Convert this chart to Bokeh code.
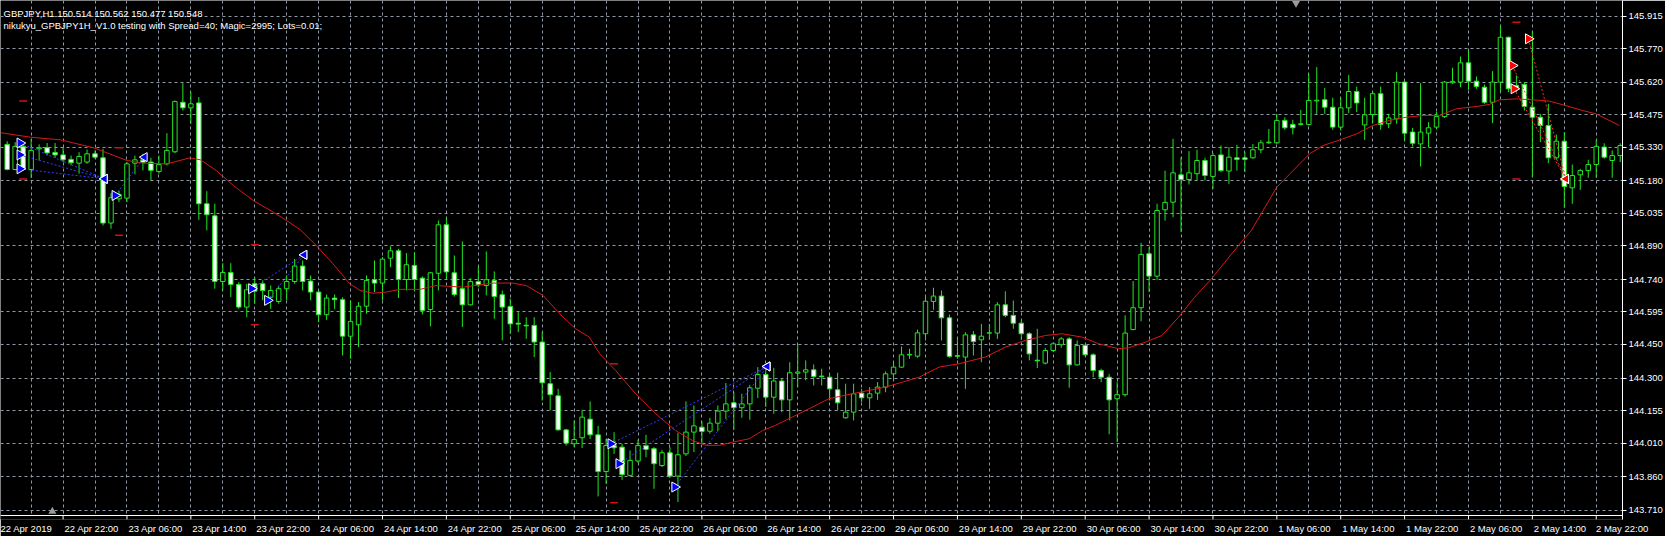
import math
from bokeh.plotting import figure
from bokeh.models import (Range1d, FixedTicker, Label, ColumnDataSource, PrintfTickFormatter,
                          BoxAnnotation, Span)
from bokeh.embed import file_html
from bokeh.resources import INLINE

# ---------------- data ----------------
symbol_line = "GBPJPY,H1  150.514 150.562 150.477 150.548"
ea_line = "nikukyu_GPBJPY1H_V1.0 testing with Spread=40; Magic=2995; Lots=0.01;"

first_bar = 1  # bar 0 = 22 Apr 14:00, one bar per hour (weekend removed)

opens = [145.343, 145.231, 145.334, 145.231, 145.323, 145.328, 145.307, 145.296, 145.276, 145.259,
         145.264, 145.301, 145.283, 144.992, 145.100, 145.103, 145.259, 145.274, 145.264, 145.222,
         145.256, 145.310, 145.531, 145.506, 145.528, 145.078, 145.024, 144.731, 144.771, 144.718,
         144.617, 144.721, 144.721, 144.661, 144.642, 144.699, 144.731, 144.800, 144.733, 144.684,
         144.583, 144.657, 144.650, 144.487, 144.538, 144.621, 144.740, 144.724, 144.835, 144.868,
         144.740, 144.803, 144.746, 144.606, 144.768, 144.984, 144.770, 144.699, 144.627, 144.731,
         144.713, 144.736, 144.672, 144.620, 144.545, 144.536, 144.535, 144.461, 144.275, 144.221,
         144.069, 144.007, 144.034, 144.117, 144.047, 143.883, 143.999, 143.992, 143.866, 143.930,
         143.999, 143.985, 143.910, 143.967, 143.863, 143.962, 144.059, 144.081, 144.063, 144.099,
         144.153, 144.190, 144.168, 144.185, 144.255, 144.316, 144.215, 144.287, 144.203, 144.322,
         144.327, 144.337, 144.309, 144.304, 144.248, 144.123, 144.148, 144.233, 144.212, 144.233,
         144.260, 144.319, 144.349, 144.403, 144.398, 144.498, 144.642, 144.666, 144.569, 144.397,
         144.394, 144.493, 144.471, 144.501, 144.501, 144.627, 144.580, 144.545, 144.498, 144.380,
         144.367, 144.423, 144.449, 144.475, 144.359, 144.446, 144.404, 144.334, 144.304, 144.208,
         144.226, 144.517, 144.614, 144.855, 144.755, 145.051, 145.085, 145.207, 145.186, 145.212,
         145.271, 145.200, 145.296, 145.224, 145.283, 145.283, 145.283, 145.319, 145.350, 145.350,
         145.450, 145.432, 145.432, 145.432, 145.537, 145.542, 145.509, 145.420, 145.506, 145.579,
         145.430, 145.476, 145.569, 145.435, 145.457, 145.621, 145.398, 145.345, 145.393, 145.420,
         145.467, 145.618, 145.621, 145.707, 145.625, 145.598, 145.531, 145.621, 145.821, 145.606,
         145.610, 145.509, 145.464, 145.427, 145.283, 145.357, 145.149, 145.207, 145.226, 145.253,
         145.331, 145.271, 145.293]

highs = [145.357, 145.353, 145.345, 145.368, 145.343, 145.349, 145.349, 145.331, 145.293, 145.308,
         145.320, 145.316, 145.323, 145.125, 145.137, 145.264, 145.293, 145.301, 145.283, 145.293,
         145.393, 145.539, 145.616, 145.576, 145.554, 145.134, 145.078, 144.813, 144.813, 144.728,
         144.721, 144.751, 144.736, 144.713, 144.713, 144.758, 144.832, 144.825, 144.758, 144.691,
         144.673, 144.673, 144.661, 144.647, 144.639, 144.758, 144.825, 144.840, 144.888, 144.877,
         144.858, 144.862, 144.754, 144.773, 145.003, 145.015, 144.847, 144.910, 144.746, 144.798,
         144.865, 144.776, 144.691, 144.654, 144.594, 144.572, 144.572, 144.505, 144.327, 144.252,
         144.074, 144.111, 144.159, 144.196, 144.087, 144.029, 144.059, 144.007, 143.977, 144.025,
         144.047, 143.992, 143.980, 143.992, 144.055, 144.196, 144.178, 144.107, 144.123, 144.178,
         144.278, 144.237, 144.230, 144.270, 144.349, 144.349, 144.346, 144.297, 144.371, 144.450,
         144.379, 144.361, 144.342, 144.319, 144.324, 144.275, 144.275, 144.252, 144.260, 144.282,
         144.330, 144.371, 144.441, 144.431, 144.516, 144.669, 144.703, 144.691, 144.584, 144.483,
         144.505, 144.510, 144.542, 144.542, 144.639, 144.687, 144.646, 144.557, 144.505, 144.520,
         144.435, 144.460, 144.483, 144.483, 144.468, 144.453, 144.411, 144.342, 144.319, 144.282,
         144.580, 144.733, 144.904, 144.884, 145.078, 145.226, 145.368, 145.286, 145.313, 145.319,
         145.283, 145.304, 145.338, 145.331, 145.341, 145.308, 145.345, 145.363, 145.412, 145.479,
         145.464, 145.453, 145.497, 145.658, 145.688, 145.595, 145.551, 145.551, 145.653, 145.601,
         145.551, 145.580, 145.601, 145.479, 145.665, 145.625, 145.417, 145.616, 145.442, 145.487,
         145.625, 145.685, 145.735, 145.762, 145.646, 145.610, 145.670, 145.873, 145.824, 145.650,
         145.621, 145.848, 145.479, 145.524, 145.387, 145.398, 145.253, 145.234, 145.274, 145.363,
         145.348, 145.316, 145.348]

lows = [145.227, 145.227, 145.227, 145.194, 145.271, 145.294, 145.283, 145.264, 145.249, 145.212,
        145.256, 145.279, 144.981, 144.966, 145.085, 145.085, 145.209, 145.227, 145.182, 145.212,
        145.249, 145.304, 145.494, 145.435, 145.006, 144.959, 144.699, 144.691, 144.661, 144.609,
        144.572, 144.632, 144.647, 144.609, 144.632, 144.647, 144.721, 144.691, 144.647, 144.550,
        144.560, 144.609, 144.401, 144.386, 144.438, 144.587, 144.684, 144.647, 144.795, 144.657,
        144.691, 144.691, 144.584, 144.531, 144.691, 144.743, 144.664, 144.528, 144.624, 144.706,
        144.669, 144.565, 144.468, 144.498, 144.505, 144.475, 144.394, 144.200, 144.156, 144.066,
        143.999, 143.992, 143.988, 144.029, 143.772, 143.828, 143.962, 143.846, 143.861, 143.921,
        143.947, 143.806, 143.903, 143.855, 143.747, 143.952, 143.970, 144.007, 144.052, 144.063,
        144.118, 144.069, 144.123, 144.114, 144.211, 144.171, 144.141, 144.148, 144.111, 144.260,
        144.290, 144.267, 144.267, 144.200, 144.156, 144.119, 144.111, 144.193, 144.163, 144.203,
        144.237, 144.290, 144.346, 144.386, 144.391, 144.468, 144.605, 144.468, 144.391, 144.386,
        144.252, 144.401, 144.371, 144.471, 144.475, 144.572, 144.520, 144.471, 144.379, 144.345,
        144.361, 144.416, 144.435, 144.257, 144.356, 144.397, 144.304, 144.282, 144.049, 144.014,
        144.218, 144.513, 144.554, 144.684, 144.739, 145.003, 145.018, 144.951, 145.164, 145.182,
        145.182, 145.145, 145.219, 145.167, 145.226, 145.219, 145.279, 145.304, 145.345, 145.345,
        145.408, 145.387, 145.427, 145.427, 145.479, 145.479, 145.408, 145.405, 145.482, 145.487,
        145.363, 145.438, 145.408, 145.415, 145.435, 145.360, 145.334, 145.244, 145.331, 145.412,
        145.461, 145.613, 145.598, 145.586, 145.591, 145.524, 145.438, 145.576, 145.576, 145.576,
        145.494, 145.197, 145.353, 145.259, 145.274, 145.060, 145.078, 145.140, 145.194, 145.194,
        145.279, 145.194, 145.264]

closes = [145.231, 145.334, 145.231, 145.316, 145.328, 145.305, 145.296, 145.274, 145.261, 145.289,
          145.301, 145.286, 144.992, 145.105, 145.120, 145.256, 145.274, 145.262, 145.227, 145.253,
          145.316, 145.534, 145.506, 145.524, 145.078, 145.029, 144.731, 144.771, 144.718, 144.617,
          144.694, 144.688, 144.691, 144.691, 144.699, 144.731, 144.800, 144.731, 144.684, 144.583,
          144.657, 144.650, 144.487, 144.553, 144.621, 144.736, 144.724, 144.831, 144.868, 144.740,
          144.806, 144.740, 144.602, 144.770, 144.984, 144.774, 144.673, 144.627, 144.731, 144.716,
          144.739, 144.664, 144.617, 144.542, 144.541, 144.533, 144.461, 144.279, 144.226, 144.069,
          144.010, 144.026, 144.126, 144.047, 143.883, 143.999, 143.989, 143.869, 143.933, 143.999,
          143.982, 143.918, 143.967, 143.863, 143.958, 144.059, 144.087, 144.062, 144.099, 144.153,
          144.185, 144.168, 144.185, 144.257, 144.316, 144.215, 144.287, 144.203, 144.324, 144.327,
          144.337, 144.307, 144.306, 144.252, 144.190, 144.148, 144.230, 144.212, 144.230, 144.260,
          144.319, 144.349, 144.404, 144.406, 144.502, 144.643, 144.666, 144.569, 144.397, 144.401,
          144.493, 144.463, 144.487, 144.502, 144.627, 144.580, 144.545, 144.498, 144.408, 144.377,
          144.423, 144.453, 144.475, 144.359, 144.446, 144.404, 144.334, 144.304, 144.203, 144.226,
          144.501, 144.614, 144.852, 144.755, 145.048, 145.084, 145.216, 145.186, 145.216, 145.271,
          145.204, 145.293, 145.226, 145.286, 145.276, 145.276, 145.319, 145.350, 145.353, 145.450,
          145.417, 145.417, 145.435, 145.539, 145.540, 145.509, 145.420, 145.506, 145.579, 145.528,
          145.475, 145.569, 145.432, 145.461, 145.621, 145.393, 145.348, 145.398, 145.417, 145.467,
          145.621, 145.624, 145.707, 145.625, 145.601, 145.531, 145.621, 145.821, 145.591, 145.591,
          145.512, 145.464, 145.427, 145.283, 145.357, 145.155, 145.204, 145.226, 145.253, 145.334,
          145.286, 145.293, 145.338]

# moving average (red line), read at these bar positions
ma_bars = [0.2, 3.9, 7.7, 11.8, 16, 18.1, 21, 23.9, 25.2, 27.2, 29.3, 31.8, 34.3, 36, 37.7, 39.7,
           41.8, 43.9, 45.2, 46.8, 48.5, 50.2, 52.7, 54.7, 58.1, 61.8, 64.3, 66, 68.1, 70.6, 72.2,
           73.9, 75.2, 77.2, 79.7, 82.2, 84.7, 86.8, 88.5, 90.2, 91.8, 93.9, 95.6, 97.2, 99.3, 101.4,
           103.9, 106.8, 111, 115.2, 117.7, 120.2, 123.5, 126, 128.5, 131, 133.1, 135.6, 137.7, 140.2,
           141.4, 143.5, 145.6, 147.7, 149.7, 151.8, 155.2, 156.8, 160, 164.1, 165.8, 168.3, 170, 172,
           174.1, 176.2, 178.3, 180.4, 182.5, 185, 186.6, 187.9, 190, 192, 194.1, 196.2, 198.3, 200,
           202.9]
ma_vals = [145.395, 145.375, 145.363, 145.328, 145.271, 145.259, 145.256, 145.283, 145.274, 145.226,
           145.160, 145.093, 145.041, 145.003, 144.962, 144.892, 144.810, 144.721, 144.691, 144.679,
           144.684, 144.696, 144.696, 144.713, 144.706, 144.724, 144.724, 144.713, 144.669, 144.572,
           144.520, 144.483, 144.408, 144.334, 144.230, 144.141, 144.066, 144.022, 144.000, 144.000,
           144.014, 144.029, 144.066, 144.089, 144.126, 144.163, 144.208, 144.230, 144.260, 144.304,
           144.349, 144.364, 144.394, 144.438, 144.468, 144.490, 144.498, 144.483, 144.453, 144.431,
           144.435, 144.460, 144.490, 144.572, 144.661, 144.743, 144.892, 144.959, 145.152, 145.301,
           145.338, 145.368, 145.390, 145.427, 145.450, 145.464, 145.472, 145.472, 145.502, 145.512,
           145.521, 145.542, 145.546, 145.542, 145.536, 145.516, 145.494, 145.479, 145.427]

# trades
buy_bar = [2.6, 2.6, 2.6, 14.5, 31.6, 33.6, 76.6, 77.6, 84.6]
buy_price = [145.349, 145.296, 145.234, 145.115, 144.699, 144.647, 144.007, 143.918, 143.814]
buy_close_bar = [13.2, 13.2, 13.2, 18.2, 38.2, 38.2, 96.2, 96.2, 96.2]
buy_close_price = [145.189, 145.189, 145.189, 145.286, 144.850, 144.850, 144.352, 144.352, 144.352]
sell_bar = [191.5, 189.5, 189.7]
sell_price = [145.814, 145.695, 145.591]
sell_close_bar = [196.2, 196.2, 196.2]
sell_close_price = [145.189, 145.189, 145.189]
stop_bar = [3, 3, 15, 15, 32, 32, 77, 77, 190, 190]
stop_price = [145.536, 145.189, 145.328, 144.937, 144.895, 144.538, 144.364, 143.744, 145.888, 145.189]

price_labels = ["145.915", "145.770", "145.620", "145.475", "145.330", "145.180", "145.035",
                "144.890", "144.740", "144.595", "144.450", "144.300", "144.155", "144.010",
                "143.860", "143.710"]
first_date_label = "22 Apr 2019"
time_labels = ["22 Apr 22:00", "23 Apr 06:00", "23 Apr 14:00", "23 Apr 22:00", "24 Apr 06:00",
               "24 Apr 14:00", "24 Apr 22:00", "25 Apr 06:00", "25 Apr 14:00", "25 Apr 22:00",
               "26 Apr 06:00", "26 Apr 14:00", "26 Apr 22:00", "29 Apr 06:00", "29 Apr 14:00",
               "29 Apr 22:00", "30 Apr 06:00", "30 Apr 14:00", "30 Apr 22:00", "1 May 06:00",
               "1 May 14:00", "1 May 22:00", "2 May 06:00", "2 May 14:00", "2 May 22:00"]
time_label_bars = [8 * (k + 1) for k in range(len(time_labels))]

# ---------------- layout / style ----------------
W, H = 1665, 536
FRAME_W, FRAME_H = 1625, 519     # frame reaches 4px below the drawn time axis (tick marks)
AXIS_Y_PX = 515                  # where the time axis line sits
PX_PER_BAR = 8.0
PX_PER_PRICE = 224.1
GREEN = "#22e622"
FONT = "Liberation Sans"
FS_PX = 9.5
FS = f"{FS_PX}px"

x_start = 0.1625
x_end = x_start + FRAME_W / PX_PER_BAR
y_top = 145.985
y_bot = y_top - FRAME_H / PX_PER_PRICE
axis_price = y_top - AXIS_Y_PX / PX_PER_PRICE

# approximate Arial/Liberation advance widths (em) for left-aligned time labels
CW = {" ": 0.278, ":": 0.278, "A": 0.667, "M": 0.833, "p": 0.556, "r": 0.333, "a": 0.556, "y": 0.5}
def text_w(s):
    return sum(CW.get(ch, 0.556) for ch in s) * FS_PX

label_pos = [round(min(b + (1.5 + text_w(t) / 2) / PX_PER_BAR, x_end - 0.05), 4)
             for b, t in zip(time_label_bars, time_labels)]
first_pos = round(x_start + (-3 + text_w(first_date_label) / 2) / PX_PER_BAR, 4)

bars = list(range(first_bar, first_bar + len(opens)))
src = ColumnDataSource(dict(
    x=bars, o=opens, h=highs, l=lows, c=closes,
    top=[max(o, c) for o, c in zip(opens, closes)],
    bottom=[min(o, c) for o, c in zip(opens, closes)],
    fill=["black" if c >= o else "white" for o, c in zip(opens, closes)],
))

p = figure(width=W, height=H, x_range=Range1d(x_start, x_end),
           y_range=Range1d(y_bot, y_top), y_axis_location="right",
           output_backend="svg", toolbar_location=None)
p.min_border_left = 0
p.min_border_top = 0
p.min_border_right = W - FRAME_W
p.min_border_bottom = H - FRAME_H
p.background_fill_color = "black"
p.border_fill_color = "black"
p.outline_line_color = None

# grid
p.xgrid.ticker = FixedTicker(ticks=list(range(4, 204, 4)))
for g in (p.xgrid, p.ygrid):
    g.grid_line_color = "#8e99a4"
    g.grid_line_dash = "3 3"
    g.grid_line_width = 1

# strip below the time axis line: black, with white axis line and tick marks
p.add_layout(BoxAnnotation(top=axis_price, fill_color="black", fill_alpha=1.0,
                           line_color=None, level="underlay"))
p.add_layout(Span(location=axis_price, dimension="width", line_color="white", line_width=1))
p.segment(x0=time_label_bars, y0=[axis_price] * len(time_label_bars),
          x1=time_label_bars, y1=[y_bot] * len(time_label_bars), line_color="white", line_width=1)

def style_axis(ax):
    ax.axis_line_color = "white"
    ax.axis_line_width = 1
    ax.major_tick_line_color = "white"
    ax.major_tick_out = 4
    ax.major_tick_in = 0
    ax.minor_tick_line_color = None
    ax.major_label_text_color = "white"
    ax.major_label_text_font = FONT
    ax.major_label_text_font_size = FS

yax = p.yaxis[0]
style_axis(yax)
yax.major_label_standoff = 2
yax.ticker = FixedTicker(ticks=[float(s) for s in price_labels])
yax.formatter = PrintfTickFormatter(format="%.3f")

# time texts, left aligned to their tick marks like the terminal does
xax = p.xaxis[0]
style_axis(xax)
xax.axis_line_color = None
xax.major_tick_line_color = None
xax.major_tick_out = 0
xax.major_label_standoff = 3
xax.ticker = FixedTicker(ticks=[first_pos] + label_pos)
ov = {first_pos: first_date_label}
ov.update({pp: t for pp, t in zip(label_pos, time_labels)})
xax.major_label_overrides = ov

# candles
p.segment(x0="x", y0="l", x1="x", y1="h", source=src, line_color=GREEN, line_width=1)
p.vbar(x="x", width=0.56, top="top", bottom="bottom", fill_color="fill",
       line_color=GREEN, line_width=1, source=src)

# moving average
p.line(ma_bars, ma_vals, line_color="#d81818", line_width=1)

# trade lines
p.segment(buy_bar, buy_price, buy_close_bar, buy_close_price,
          line_color="#3a3aff", line_dash="2 2", line_width=1)
p.segment(sell_bar, sell_price, sell_close_bar, sell_close_price,
          line_color="#ff2a2a", line_dash="2 2", line_width=1)

# SL / TP dashes
p.scatter(stop_bar, stop_price, marker="dash", size=8, line_color="#d01010", line_width=1.5)

# arrows
p.scatter(buy_bar, buy_price, marker="triangle", angle=-math.pi / 2, size=10,
          fill_color="#0000ff", line_color="white", line_width=1)
p.scatter(buy_close_bar, buy_close_price, marker="triangle", angle=math.pi / 2, size=9,
          fill_color="#0000ff", line_color="white", line_width=1)
p.scatter(sell_bar, sell_price, marker="triangle", angle=-math.pi / 2, size=10,
          fill_color="#ff0000", line_color="white", line_width=1)
p.scatter(sell_close_bar, sell_close_price, marker="triangle", angle=math.pi / 2, size=9,
          fill_color="#ff0000", line_color="white", line_width=1)

# chart shift markers
p.scatter([6.66], [143.705], marker="triangle", size=8, fill_color="#9a9a9a", line_color=None)
p.scatter([162.4], [145.973], marker="inverted_triangle", size=8, fill_color="#9a9a9a", line_color=None)

# header texts
p.add_layout(Label(x=x_start, y=145.926, x_offset=3, text=symbol_line, text_color="white",
                   text_font=FONT, text_font_size=FS, text_baseline="alphabetic"))
p.add_layout(Label(x=x_start, y=145.872, x_offset=3, text=ea_line, text_color="white",
                   text_font=FONT, text_font_size=FS, text_baseline="alphabetic"))

with open("out.html", "w", encoding="utf-8") as f:
    f.write(file_html(p, INLINE))
